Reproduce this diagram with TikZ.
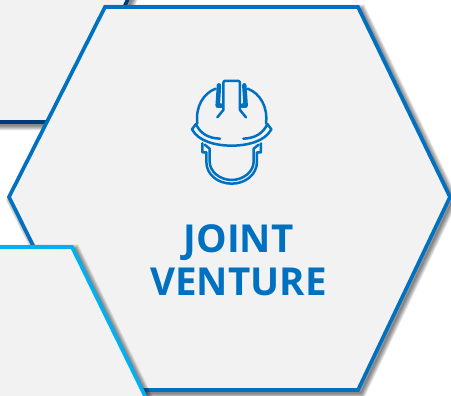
\documentclass[tikz,border=0pt]{standalone}
\usepackage{fontspec}
\setmainfont{Open Sans}
\definecolor{hexfill}{HTML}{F2F2F2}
\definecolor{mainblue}{HTML}{0070C0}
\definecolor{skyblue}{HTML}{00B0F0}
\definecolor{navyblue}{HTML}{003A7D}
\tikzset{
  hexline/.style={line width=3.7pt,miter limit=10,line join=miter},
  softshadow/.style={draw=black,draw opacity=0.055,fill=none},
  icon/.style={draw=mainblue,line width=2.5pt,line cap=round,line join=round},
  iconbar/.style={draw=mainblue,line width=4.5pt,line cap=round,line join=round},
  title/.style={text=mainblue,font=\fontsize{38.5}{43.5}\selectfont\bfseries,align=center,inner sep=0pt}
}
\newcommand{\shadowed}[2]{%
  \foreach \wid in {1,2,...,11}{
    \draw[softshadow,line width=\wid pt,shift={(2.8,2.8)}] #1;
  }
  \draw[hexline,draw=#2,fill=hexfill] #1;
}
\begin{document}
\begin{tikzpicture}[x=1pt,y=-1pt]
\useasboundingbox (0,0) rectangle (451,396);
\fill[white] (0,0) rectangle (451,396);
\clip (0,0) rectangle (451,396);
% back-left dark hexagon
\shadowed{(-60,-20) -- (137,-20) -- (70,122) -- (-60,122) -- cycle}{navyblue}
% main hexagon
\shadowed{(105,7) -- (358,7) -- (450,197) -- (358,390) -- (105,390) -- (9,197) -- cycle}{mainblue}
% front-left light hexagon
\shadowed{(-60,247) -- (72,247) -- (148,402) -- (-60,402) -- cycle}{skyblue}
% title
\node[title] (label) at (238.5,260) {JOINT\\VENTURE};
% helmet icon
\begin{scope}[shift={(170,60)},x=0.3333pt,y=-0.3333pt]
  \draw[icon] (82,190) .. controls (76,140) and (100,100) .. (137,86);
  \draw[icon] (288,190) .. controls (294,140) and (270,100) .. (233,86);
  \draw[icon] (160,150) -- (160,68) -- (163,63) -- (207,63) -- (210,68) -- (210,150);
  \draw[icon] (160,150) -- (142,172);
  \draw[icon] (210,150) -- (228,172);
  \draw[iconbar] (147,76) -- (143,137) -- (154,137);
  \draw[iconbar] (223,76) -- (227,137) -- (216,137);
  \draw[icon] (66,208) -- (78,192) .. controls (90,220) and (115,235) .. (150,236);
  \draw[icon] (304,208) -- (292,192) .. controls (280,220) and (255,235) .. (220,236);
  \draw[icon] (66,208) .. controls (85,245) and (140,257) .. (185,257) .. controls (230,257) and (285,245) .. (304,208);
  \draw[icon] (97,250) -- (97,277) -- (109,277) -- (109,305) .. controls (109,345) and (145,371) .. (185,371) .. controls (225,371) and (261,345) .. (261,305) -- (261,277) -- (273,277) -- (273,250);
  \draw[icon] (104,254) -- (119,266) -- (119,305) .. controls (119,335) and (150,360) .. (185,360) .. controls (220,360) and (251,335) .. (251,305) -- (251,266) -- (266,254);
\end{scope}
\end{tikzpicture}
\end{document}
